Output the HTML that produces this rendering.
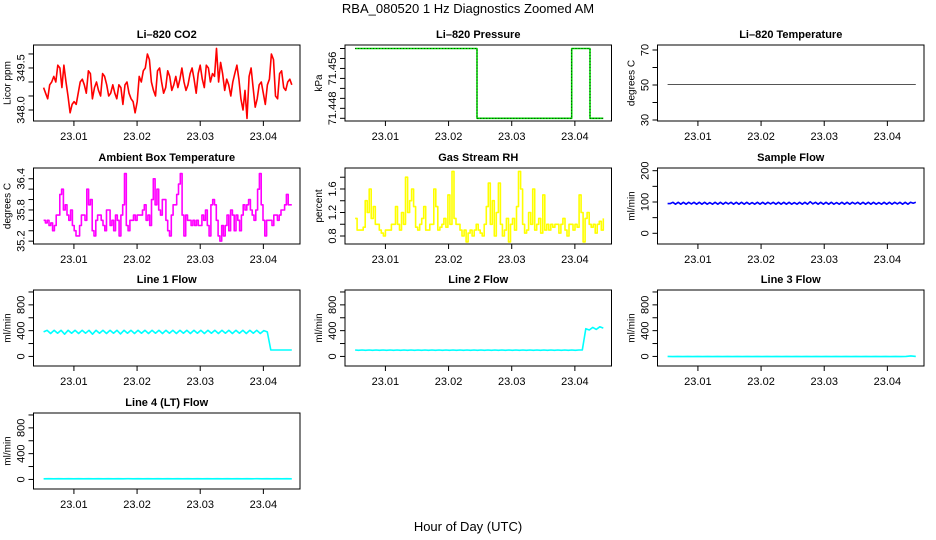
<!DOCTYPE html>
<html><head><meta charset="utf-8"><style>
html,body{margin:0;padding:0;background:#fff;}
svg{display:block;font-family:"Liberation Sans",Arial,sans-serif;}
</style></head><body>
<svg id="chart" width="936" height="540" viewBox="0 0 936 540">
<text x="468" y="13" text-anchor="middle" font-size="13">RBA_080520  1 Hz Diagnostics Zoomed AM</text>
<text x="468" y="531" text-anchor="middle" font-size="13">Hour of Day (UTC)</text>
</svg>
<script>
const xTicks = [23.01, 23.02, 23.03, 23.04];
const xTickLabels = ["23.01", "23.02", "23.03", "23.04"];
const tStart = 23.0052, tEnd = 23.0445;

const co2Values = [348.8,348.6,348.4,348.9,349.0,349.2,349.0,349.6,349.5,348.8,349.6,349.0,348.5,347.9,348.2,348.3,348.2,348.6,349.0,349.1,348.9,348.6,349.4,349.3,348.4,348.8,349.0,348.7,348.5,349.3,349.2,348.9,348.5,348.6,348.9,348.6,348.4,348.9,348.8,348.2,348.9,349.0,348.6,348.4,348.3,347.9,348.3,349.2,349.0,349.4,349.5,350.0,349.8,349.0,348.7,348.5,349.4,349.5,349.0,348.6,348.8,349.4,349.2,348.7,348.9,349.2,348.8,349.1,349.5,349.0,348.7,348.9,349.3,349.5,349.1,348.6,349.3,349.6,349.1,348.8,349.6,349.5,349.0,349.3,349.2,350.2,349.0,349.7,349.3,348.7,349.1,348.9,348.5,349.0,349.3,349.6,349.1,348.4,348.0,348.7,347.7,349.2,349.5,348.8,348.1,348.4,348.9,349.0,348.6,348.2,348.9,349.1,350.0,349.8,348.5,348.4,349.3,349.4,348.8,348.7,349.0,349.1,348.9];
const pressureTimes = [23.0052, 23.0245, 23.0245, 23.0395, 23.0395, 23.0424, 23.0424, 23.0445];
const pressureValues = [71.460, 71.460, 71.446, 71.446, 71.460, 71.460, 71.446, 71.446];
const liTempTimes = [23.0052, 23.0445];
const liTempValues = [50.3, 50.3];
const ambientValues = [35.6,35.55,35.6,35.5,35.55,35.4,35.5,35.7,35.7,36.1,36.2,35.8,35.9,35.7,35.6,35.8,35.5,35.4,35.3,35.3,35.5,35.7,35.7,35.6,36.2,35.9,36.0,35.4,35.3,35.6,35.7,35.7,35.6,35.5,35.4,35.8,35.8,35.5,35.6,35.4,35.7,35.6,35.3,35.7,35.9,36.5,35.5,35.4,35.6,35.6,35.7,35.6,35.7,35.7,35.7,35.8,35.9,35.6,35.7,35.5,36.0,36.4,35.9,36.2,35.8,35.7,36.0,36.0,35.6,35.4,35.3,35.7,35.9,35.9,36.1,36.3,36.5,35.7,35.3,35.7,35.6,35.6,35.5,35.6,35.5,35.6,35.5,35.5,35.7,35.6,35.8,35.5,35.3,35.9,36.0,35.9,35.6,35.3,35.2,35.5,35.3,35.5,35.7,35.4,35.8,35.7,35.4,35.7,35.6,35.4,35.7,35.9,35.8,35.9,36.0,35.8,35.7,35.6,35.8,36.2,36.5,35.9,35.6,35.3,35.6,35.6,35.6,35.5,35.7,35.7,35.6,35.7,35.8,35.8,35.9,36.1,35.9,35.9,35.9];
const rhValues = [1.1,0.9,0.9,0.9,0.95,1.4,1.2,1.6,1.1,1.3,1.0,1.0,0.9,0.85,0.8,0.9,0.9,0.9,1.0,1.0,1.3,1.0,0.9,1.2,1.0,1.8,1.2,1.4,1.6,1.3,0.95,0.9,1.0,1.1,1.3,0.9,0.9,1.0,1.0,1.6,1.3,0.9,0.95,1.0,1.1,0.95,1.5,1.0,1.9,1.1,1.0,1.0,0.9,0.8,0.9,0.7,0.85,0.9,0.8,0.9,1.0,0.9,0.85,0.8,1.0,1.3,1.7,1.0,1.4,0.8,1.2,1.7,1.0,0.8,0.9,1.1,0.7,1.0,1.1,0.9,1.3,1.9,1.6,1.0,0.85,0.9,1.2,1.0,1.6,0.9,1.0,1.1,0.85,1.5,0.9,1.0,0.9,1.0,0.95,1.0,1.0,0.85,1.0,1.1,0.9,0.8,1.0,1.0,0.9,1.0,0.95,1.5,1.2,0.7,1.1,1.2,1.0,0.95,1.0,0.85,1.0,1.05,0.9,1.1];
const sampleFlowValues = [95,95,99,93,99,93,99,93,99,94,99,93,99,93,99,93,98,93,99,93,99,93,99,94,99,93,99,93,99,93,99,93,98,93,99,93,99,93,99,94,99,93,99,93,99,93,99,93,98,93,99,93,99,93,101,94,99,93,99,93,99,93,99,93,98,93,99,93,99,93,99,94,99,93,99,93,99,93,99,93,98,93,99,93,99,93,99,94,99,93,99,93,99,96,99];
const line1Values = [380,405,355,405,360,405,345,405,360,405,355,405,360,405,345,405,360,405,355,405,360,405,350,405,360,405,355,405,360,405,355,405,360,405,355,405,360,405,355,405,360,405,355,405,360,405,355,405,360,405,355,405,360,405,355,405,360,405,355,405,360,405,355,400,380,100,100,100,100,100,100,100];
const line2Values = [100,95,100,95,100,95,100,95,100,95,100,95,100,95,100,95,100,95,100,95,100,95,100,95,100,95,100,95,100,95,100,95,100,95,100,95,100,95,100,95,100,95,100,95,100,95,100,95,100,95,100,95,100,95,100,95,100,95,100,95,100,95,100,95,100,100,430,410,450,420,460,440];
const line3Values = [0,-3,0,-3,0,-3,0,-3,0,-3,0,-3,0,-3,0,-3,0,-3,0,-3,0,-3,0,-3,0,-3,0,-3,0,-3,0,-3,0,-3,0,-3,0,-3,0,-3,0,-3,0,-3,0,-3,0,-3,0,8,0];
const line4Values = [10,12,10,12,10,12,10,12,10,12,10,12,10,12,10,12,10,12,10,12,10,12,10,12,10,12,10,12,10,12,10,12,10,12,10,12,10,12,10,12,10,12,10,12,10,12,10,12,10,12,10];

const panels = [
 {name:"li820-co2",title:"Li\u2013820 CO2",col:0,row:0,ylab:"Licor ppm",lo:347.607,hi:350.32,ticks:[348,348.5,349,349.5,350],labels:{"348":"348.0","349.5":"349.5"},vals:co2Values,color:"#ff0000",w:1.6},
 {name:"li820-pressure",title:"Li\u2013820 Pressure",col:1,row:0,ylab:"kPa",lo:71.44546,hi:71.4607,ticks:[71.446,71.448,71.45,71.452,71.454,71.456,71.458,71.46],labels:{"71.448":"71.448","71.456":"71.456"},times:pressureTimes,vals:pressureValues,color:"#00dd00",w:1.6,dotted:true},
 {name:"li820-temperature",title:"Li\u2013820 Temperature",col:2,row:0,ylab:"degrees C",lo:29.43,hi:72.86,ticks:[30,40,50,60,70],labels:{"30":"30","50":"50","70":"70"},times:liTempTimes,vals:liTempValues,color:"#555555",w:1},
 {name:"ambient-box-temperature",title:"Ambient Box Temperature",col:0,row:1,ylab:"degrees C",lo:35.145,hi:36.607,ticks:[35.2,35.4,35.6,35.8,36,36.2,36.4],labels:{"35.2":"35.2","35.8":"35.8","36.4":"36.4"},vals:ambientValues,color:"#ff00ff",w:1.6,step:true},
 {name:"gas-stream-rh",title:"Gas Stream RH",col:1,row:1,ylab:"percent",lo:0.664,hi:1.957,ticks:[0.8,1,1.2,1.4,1.6,1.8],labels:{"0.8":"0.8","1.2":"1.2","1.6":"1.6"},vals:rhValues,color:"#ffff00",w:1.6,step:true},
 {name:"sample-flow",title:"Sample Flow",col:2,row:1,ylab:"ml/min",lo:-34.2,hi:208.6,ticks:[0,50,100,150,200],labels:{"0":"0","100":"100","200":"200"},vals:sampleFlowValues,color:"#0000ff",w:1.6},
 {name:"line1-flow",title:"Line 1 Flow",col:0,row:2,ylab:"ml/min",lo:-148.5,hi:1030.6,ticks:[0,200,400,600,800,1000],labels:{"0":"0","400":"400","800":"800"},vals:line1Values,color:"#00ffff",w:1.6},
 {name:"line2-flow",title:"Line 2 Flow",col:1,row:2,ylab:"ml/min",lo:-148.5,hi:1030.6,ticks:[0,200,400,600,800,1000],labels:{"0":"0","400":"400","800":"800"},vals:line2Values,color:"#00ffff",w:1.6},
 {name:"line3-flow",title:"Line 3 Flow",col:2,row:2,ylab:"ml/min",lo:-148.5,hi:1030.6,ticks:[0,200,400,600,800,1000],labels:{"0":"0","400":"400","800":"800"},vals:line3Values,color:"#00ffff",w:1.6},
 {name:"line4-flow",title:"Line 4 (LT) Flow",col:0,row:3,ylab:"ml/min",lo:-148.5,hi:1030.6,ticks:[0,200,400,600,800,1000],labels:{"0":"0","400":"400","800":"800"},vals:line4Values,color:"#00ffff",w:1.6}
];
const colLeft=[33.5,345,657.5], colW=266.5, rowTop=[45,168,290,413], rowH=76;
const NS="http://www.w3.org/2000/svg";
const svg=document.getElementById("chart");
function mk(tag,attrs,parent){const e=document.createElementNS(NS,tag);for(const k in attrs)e.setAttribute(k,attrs[k]);(parent||svg).appendChild(e);return e;}
const xSpanLo=tStart-0.0016, xSpanHi=tEnd+0.0013;
panels.forEach(p=>{
  const L=colLeft[p.col], T=rowTop[p.row], B=T+rowH, R=L+colW;
  const xs=t=>L+(t-xSpanLo)/(xSpanHi-xSpanLo)*colW;
  const ys=v=>B-(v-p.lo)/(p.hi-p.lo)*rowH;
  const g=mk("g",{});
  
  
  const title=mk("text",{x:(L+R)/2,y:T-7,"text-anchor":"middle","font-size":"11","font-weight":"bold"},g);
  title.textContent=p.title;
  
  
  const times=p.times||p.vals.map((_,i)=>tStart+(tEnd-tStart)*i/(p.vals.length-1));
  let d="";
  p.vals.forEach((v,i)=>{
    const x=xs(times[i]).toFixed(1), y=ys(v).toFixed(1);
    if(i===0) d+="M"+x+","+y;
    else if(p.step) d+="H"+x+"V"+y;
    else d+="L"+x+","+y;
  });
  const line=mk("path",{d:d,fill:"none",stroke:p.color,"stroke-width":p.w,"stroke-linejoin":"round"},g);
  
  
  if(p.dotted){
    const dl=mk("path",{d:d,fill:"none",stroke:"#000","stroke-width":0.8,"stroke-dasharray":"1 2"},g);
    
    
  }
  const box=mk("rect",{x:L,y:T,width:colW,height:rowH,fill:"none",stroke:"#000","stroke-width":1},g);
  
  
  const xa=mk("g",{},g);
  
  
  xTicks.forEach((t,i)=>{
    const x=xs(t);
    mk("line",{x1:x,x2:x,y1:B,y2:B+5,stroke:"#000"},xa);
    const tl=mk("text",{x:x,y:B+19,"text-anchor":"middle","font-size":"11"},xa);
    tl.textContent=xTickLabels[i];
    
    
  });
  const ya=mk("g",{},g);
  
  
  p.ticks.forEach(v=>{
    const y=ys(v);
    mk("line",{x1:L-5,x2:L,y1:y,y2:y,stroke:"#000"},ya);
    const key=String(v);
    if(p.labels[key]!==undefined){
      const tl=mk("text",{x:0,y:0,"text-anchor":"middle","font-size":"11",transform:`translate(${L-9},${y}) rotate(-90)`},ya);
      tl.textContent=p.labels[key];
      
      
    }
  });
  const yt=mk("text",{x:0,y:0,"text-anchor":"middle","font-size":"10",transform:`translate(${L-23},${(T+B)/2}) rotate(-90)`},g);
  yt.textContent=p.ylab;
  
  
});
</script>
</body></html>
